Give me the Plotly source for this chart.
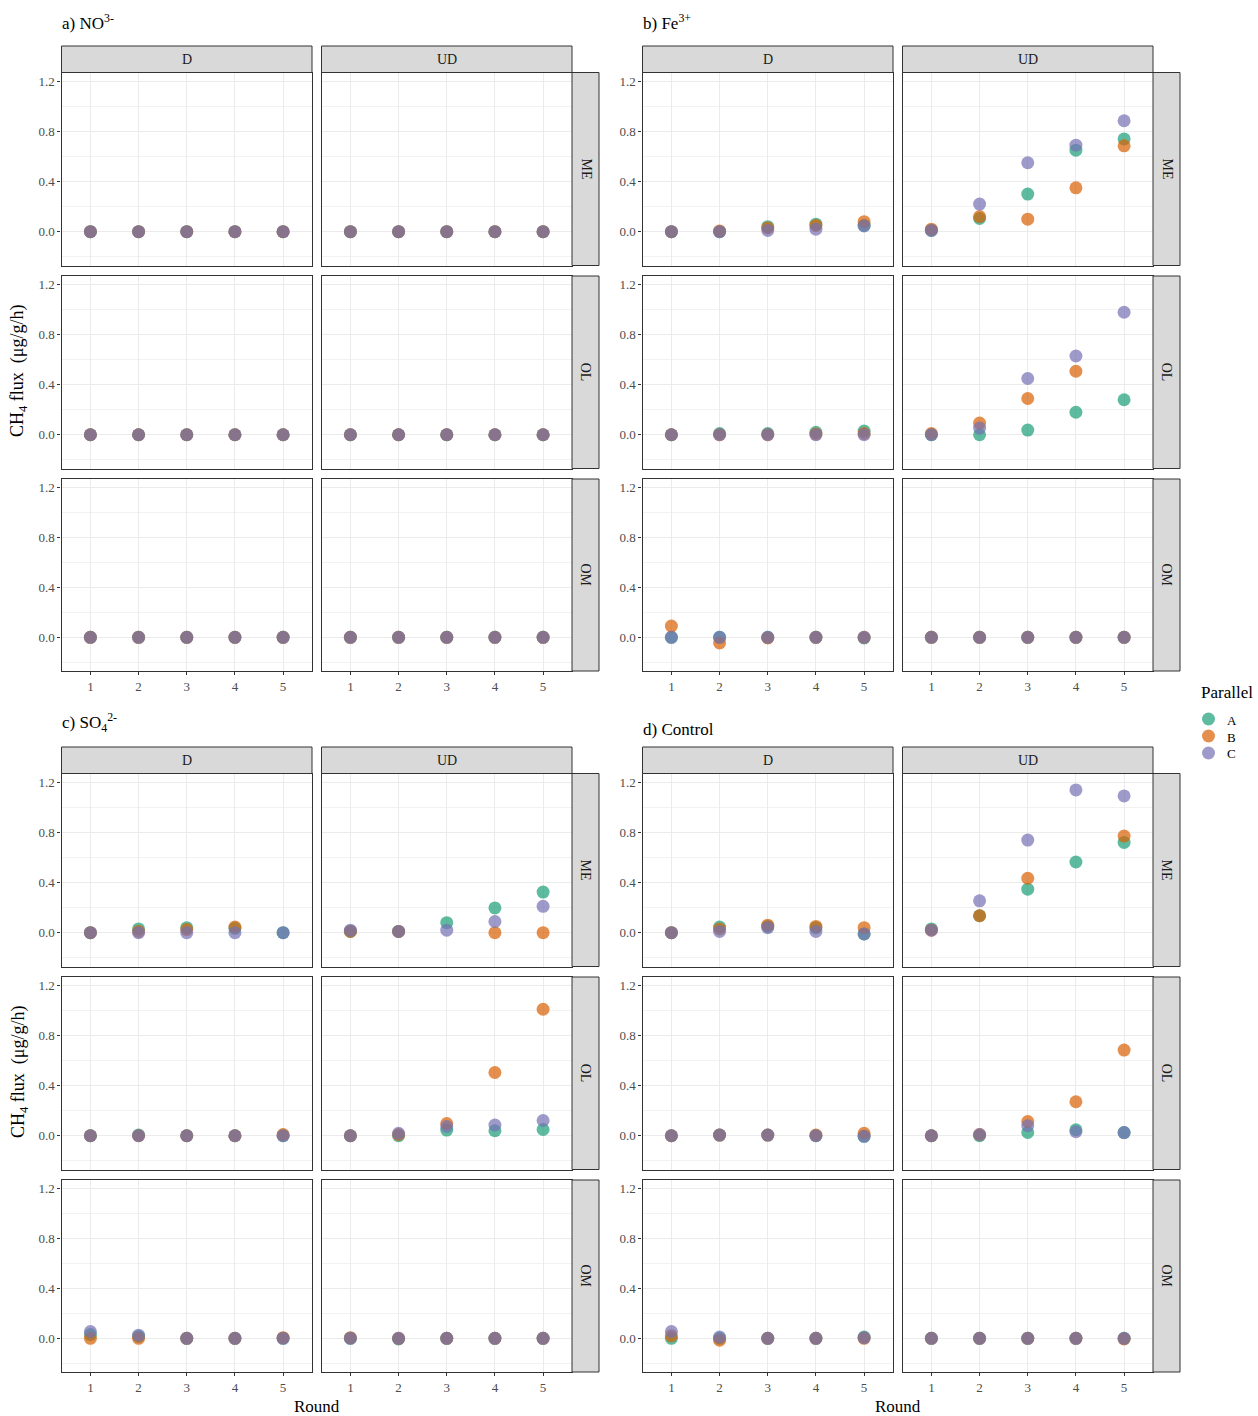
import plotly.graph_objects as go

W, H = 1258, 1416

# ---------------- data ----------------
rounds = [1, 2, 3, 4, 5]
parallels = ["A", "B", "C"]
colors = {"A": "#1B9E77", "B": "#D95F02", "C": "#7570B3"}
colors_alpha = {"A": "rgba(27,158,119,0.7)", "B": "rgba(217,95,2,0.7)", "C": "rgba(117,112,179,0.7)"}
treatments = ["NO3", "Fe3", "SO4", "Control"]
titles = {
    "NO3": "a) NO<sup>3-</sup>",
    "Fe3": "b) Fe<sup>3+</sup>",
    "SO4": "c) SO<sub>4</sub><sup>2-</sup>",
    "Control": "d) Control",
}
depths = ["D", "UD"]
layers = ["ME", "OL", "OM"]
yticks = [0.0, 0.4, 0.8, 1.2]
ytick_text = ["0.0", "0.4", "0.8", "1.2"]

Z = [0, 0, 0, 0, 0]

# a) NO3-
no3_D_ME = {"A": Z, "B": Z, "C": Z}
no3_D_OL = {"A": Z, "B": Z, "C": Z}
no3_D_OM = {"A": Z, "B": Z, "C": Z}
no3_UD_ME = {"A": Z, "B": Z, "C": Z}
no3_UD_OL = {"A": Z, "B": Z, "C": Z}
no3_UD_OM = {"A": Z, "B": Z, "C": Z}

# b) Fe3+
fe_D_ME = {"A": [0, 0, 0.04, 0.06, 0.05], "B": [0, 0.005, 0.03, 0.05, 0.08], "C": [0, 0, 0.01, 0.02, 0.045]}
fe_D_OL = {"A": [0, 0.01, 0.01, 0.02, 0.03], "B": [0, 0, 0, 0.005, 0.01], "C": [0, 0, 0, 0, 0]}
fe_D_OM = {"A": [0, 0, 0, 0, -0.005], "B": [0.09, -0.045, -0.005, 0, 0], "C": [0, 0, 0, 0, 0]}
fe_UD_ME = {"A": [0.01, 0.105, 0.30, 0.65, 0.74], "B": [0.02, 0.12, 0.10, 0.35, 0.685], "C": [0.01, 0.22, 0.55, 0.69, 0.885]}
fe_UD_OL = {"A": [0, 0, 0.037, 0.18, 0.28], "B": [0.01, 0.093, 0.29, 0.508, None], "C": [0, 0.053, 0.45, 0.63, 0.98]}
fe_UD_OM = {"A": Z, "B": Z, "C": Z}

# c) SO4 2-
so4_D_ME = {"A": [0, 0.03, 0.04, 0.035, 0], "B": [0, 0.01, 0.025, 0.045, None], "C": [0, 0, 0, 0, 0]}
so4_D_OL = {"A": [0, 0.005, 0, 0, 0], "B": [0, 0, 0, 0, 0.01], "C": [0, 0, 0, 0, 0]}
so4_D_OM = {"A": [0.03, 0.015, 0, 0, 0], "B": [0, 0, 0, 0, 0.005], "C": [0.055, 0.025, 0, 0, 0]}
so4_UD_ME = {"A": [0.01, 0.01, 0.08, 0.197, 0.324], "B": [0.01, 0.01, None, 0, 0], "C": [0.02, 0.01, 0.02, 0.089, 0.21]}
so4_UD_OL = {"A": [0, 0, 0.045, 0.04, 0.05], "B": [0, 0.01, 0.098, 0.506, 1.012], "C": [0, 0.02, 0.074, 0.085, 0.122]}
so4_UD_OM = {"A": [0, -0.005, 0, 0, 0], "B": [0.005, 0, 0, 0, 0], "C": Z}

# d) Control
ctl_D_ME = {"A": [0, 0.045, 0.05, 0.04, -0.01], "B": [0, 0.03, 0.06, 0.05, 0.04], "C": [0, 0.01, 0.04, 0.01, -0.01]}
ctl_D_OL = {"A": [0, 0.005, 0.005, 0, -0.005], "B": [0, 0.005, 0.005, 0.005, 0.02], "C": [0, 0.005, 0.005, 0, -0.005]}
ctl_D_OM = {"A": [0, 0, 0, 0, 0.01], "B": [0.02, -0.015, 0, 0, 0], "C": [0.055, 0.01, 0, 0, 0.005]}
ctl_UD_ME = {"A": [0.03, 0.135, 0.347, 0.564, 0.72], "B": [0.02, 0.135, 0.434, None, 0.771], "C": [0.02, 0.254, 0.739, 1.139, 1.091]}
ctl_UD_OL = {"A": [0, 0, 0.026, 0.048, 0.025], "B": [0, 0.01, 0.114, 0.272, 0.685], "C": [0, 0.01, 0.08, 0.032, 0.025]}
ctl_UD_OM = {"A": Z, "B": [0, 0, 0, 0, -0.005], "C": Z}

data = {
    "NO3": {"D": {"ME": no3_D_ME, "OL": no3_D_OL, "OM": no3_D_OM},
            "UD": {"ME": no3_UD_ME, "OL": no3_UD_OL, "OM": no3_UD_OM}},
    "Fe3": {"D": {"ME": fe_D_ME, "OL": fe_D_OL, "OM": fe_D_OM},
            "UD": {"ME": fe_UD_ME, "OL": fe_UD_OL, "OM": fe_UD_OM}},
    "SO4": {"D": {"ME": so4_D_ME, "OL": so4_D_OL, "OM": so4_D_OM},
            "UD": {"ME": so4_UD_ME, "OL": so4_UD_OL, "OM": so4_UD_OM}},
    "Control": {"D": {"ME": ctl_D_ME, "OL": ctl_D_OL, "OM": ctl_D_OM},
                "UD": {"ME": ctl_UD_ME, "OL": ctl_UD_OL, "OM": ctl_UD_OM}},
}

# ---------------- layout geometry (pixels) ----------------
group_x0 = {"NO3": 0, "Fe3": 581, "SO4": 0, "Control": 581}
group_y0 = {"NO3": 0, "Fe3": 0, "SO4": 701, "Control": 701}
col_x = {"D": (61.5, 312.0), "UD": (321.5, 572.0)}
strip_right = (572.0, 599.0)
strip_top = (46.0, 72.5)
row_y = [(72.5, 265.5), (276.0, 468.5), (479.0, 671.0)]

FONT = "Liberation Serif"
GRID = "#EBEBEB"
BORDER = "#333333"
STRIP_FILL = "#D9D9D9"


def px(x):
    return x / W


def py(y):
    return 1 - y / H


def note(text, x, y, size, color="#000000", angle=0, xanchor="center", yanchor="middle"):
    return dict(text=text, xref="paper", yref="paper", x=px(x), y=py(y),
                xanchor=xanchor, yanchor=yanchor, showarrow=False, textangle=angle,
                font=dict(family=FONT, size=size, color=color))


fig = go.Figure()
layout = {}
shapes = []
annotations = []
k = 0

for t in treatments:
    gx, gy = group_x0[t], group_y0[t]
    for ri, layer in enumerate(layers):
        for d in depths:
            k += 1
            xs = "" if k == 1 else str(k)
            x0, x1 = col_x[d]
            y0, y1 = row_y[ri]
            bottom = ri == 2
            left = d == "D"
            layout["xaxis" + xs] = dict(
                domain=[px(gx + x0), px(gx + x1)], anchor="y" + xs,
                range=[0.4, 5.6], tickmode="array", tickvals=rounds,
                ticktext=[str(r) for r in rounds],
                showticklabels=bottom, ticks="outside" if bottom else "",
                ticklen=3, tickcolor=BORDER, tickwidth=1,
                tickfont=dict(family=FONT, size=13, color="#4D4D4D"),
                showgrid=True, gridcolor=GRID, gridwidth=1,
                zeroline=False, showline=True, mirror=True,
                linecolor=BORDER, linewidth=1.2,
            )
            layout["yaxis" + xs] = dict(
                domain=[py(gy + y1), py(gy + y0)], anchor="x" + xs,
                range=[-0.27, 1.27], tickmode="array", tickvals=yticks,
                ticktext=ytick_text,
                showticklabels=left, ticks="outside" if left else "",
                ticklen=3, tickcolor=BORDER, tickwidth=1,
                tickfont=dict(family=FONT, size=13, color="#4D4D4D"),
                showgrid=True, gridcolor=GRID, gridwidth=1.1,
                minor=dict(tickmode="array", tickvals=[-0.2, 0.2, 0.6, 1.0],
                           showgrid=True, gridcolor="#F2F2F2", gridwidth=0.6, ticks=""),
                zeroline=False, showline=True, mirror=True,
                linecolor=BORDER, linewidth=1.2,
            )
            for p in parallels:
                fig.add_trace(go.Scatter(
                    x=rounds, y=data[t][d][layer][p], mode="markers",
                    name=p, legendgroup=p, showlegend=False,
                    marker=dict(color=colors[p], size=13, opacity=0.7,
                                line=dict(width=0)),
                    xaxis="x" + xs, yaxis="y" + xs,
                    hoverinfo="x+y+name",
                ))
        # right strip for this row
        sx0, sx1 = strip_right
        y0, y1 = row_y[ri]
        shapes.append(dict(type="rect", xref="paper", yref="paper",
                           x0=px(gx + sx0), x1=px(gx + sx1),
                           y0=py(gy + y1), y1=py(gy + y0),
                           fillcolor=STRIP_FILL, line=dict(color=BORDER, width=1)))
        annotations.append(note(layer, gx + (sx0 + sx1) / 2, gy + (y0 + y1) / 2,
                                14, "#1A1A1A", angle=90))
    # top strips
    for d in depths:
        x0, x1 = col_x[d]
        shapes.append(dict(type="rect", xref="paper", yref="paper",
                           x0=px(gx + x0), x1=px(gx + x1),
                           y0=py(gy + strip_top[1]), y1=py(gy + strip_top[0]),
                           fillcolor=STRIP_FILL, line=dict(color=BORDER, width=1)))
        annotations.append(note(d, gx + (x0 + x1) / 2, gy + sum(strip_top) / 2,
                                14, "#1A1A1A"))
    # panel title
    title_y = {"NO3": 22, "Fe3": 22, "SO4": 722, "Control": 729}[t]
    annotations.append(note(titles[t], gx + 60, title_y, 17, xanchor="left"))
    # y title for left groups
    if gx == 0:
        annotations.append(note("CH<sub>4</sub> flux  (μg/g/h)", 19, gy + 371, 18, angle=-90))
    # x title for bottom groups
    if gy > 0:
        annotations.append(note("Round", gx + 317, 1406, 17))

# manual legend
annotations.append(note("Parallel", 1199, 693, 17, xanchor="left"))
legend_y = [719, 736, 753]
for p, ly in zip(parallels, legend_y):
    shapes.append(dict(type="circle", xref="paper", yref="paper",
                       x0=px(1202), x1=px(1215), y0=py(ly + 6.5), y1=py(ly - 6.5),
                       fillcolor=colors_alpha[p], line=dict(width=0)))
    annotations.append(note(p, 1225, ly + 1, 13, xanchor="left"))

fig.update_layout(
    width=W, height=H, margin=dict(l=0, r=0, t=0, b=0),
    paper_bgcolor="white", plot_bgcolor="white",
    shapes=shapes, annotations=annotations, showlegend=False,
    **layout,
)

fig.write_html("out.html")
